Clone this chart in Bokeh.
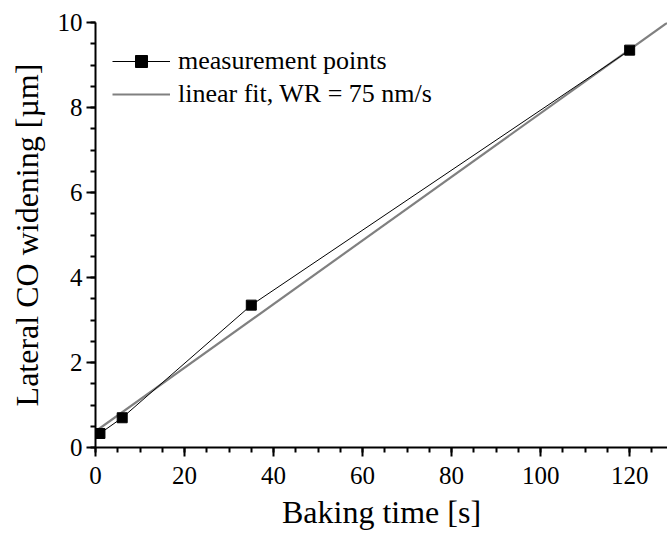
from bokeh.plotting import figure
from bokeh.models import SingleIntervalTicker, Legend, LegendItem, Range1d
from bokeh.embed import file_html
from bokeh.resources import INLINE

# data
baking_time = [1, 6, 35, 120]
widening = [0.33, 0.70, 3.35, 9.35]
fit_time = [0, 128.5]
fit_widening = [0.38, 10.00]

FONT = "Liberation Serif"

p = figure(width=667, height=537, output_backend="svg", toolbar_location=None,
           x_range=Range1d(0, 128.5), y_range=Range1d(0, 10),
           min_border_left=95, min_border_right=0, min_border_top=22, min_border_bottom=90)
p.outline_line_color = None
p.xgrid.visible = False
p.ygrid.visible = False

fit = p.line(fit_time, fit_widening, line_color="#808080", line_width=2.2)
dl = p.line(baking_time, widening, line_color="black", line_width=1)
ds = p.scatter(baking_time, widening, marker="square", size=10, fill_color="black",
               line_color="black")

p.xaxis[0].ticker = SingleIntervalTicker(interval=20, num_minor_ticks=4)
p.yaxis[0].ticker = SingleIntervalTicker(interval=2, num_minor_ticks=4)
for ax in (p.xaxis[0], p.yaxis[0]):
    ax.axis_line_width = 2
    ax.major_tick_line_width = 2
    ax.minor_tick_line_width = 2
    ax.major_tick_in = 0
    ax.major_tick_out = 9
    ax.minor_tick_in = 0
    ax.minor_tick_out = 5
    ax.major_label_text_font = FONT
    ax.major_label_text_font_style = "normal"
    ax.major_label_text_font_size = "25px"
    ax.major_label_text_color = "black"
    ax.axis_label_text_font = FONT
    ax.axis_label_text_font_size = "32px"
    ax.axis_label_text_font_style = "normal"
    ax.axis_label_text_color = "black"
p.xaxis[0].axis_label = "Baking time [s]"
p.yaxis[0].axis_label = "Lateral CO widening [µm]"
p.xaxis[0].axis_label_standoff = 7
p.xaxis[0].major_label_standoff = 10
p.yaxis[0].axis_label_standoff = 10
p.yaxis[0].major_label_standoff = 4

legend = Legend(items=[
    LegendItem(label="measurement points", renderers=[dl, ds]),
    LegendItem(label="linear fit, WR = 75 nm/s", renderers=[fit]),
], location=(17, 338))
legend.border_line_color = None
legend.background_fill_alpha = 0
legend.padding = 0
legend.margin = 0
legend.spacing = 3
legend.glyph_width = 58
legend.glyph_height = 30
legend.label_height = 30
legend.label_standoff = 8
legend.label_text_font = FONT
legend.label_text_font_size = "26px"
legend.label_text_color = "black"
p.add_layout(legend)

open("out.html", "w").write(file_html(p, INLINE))
